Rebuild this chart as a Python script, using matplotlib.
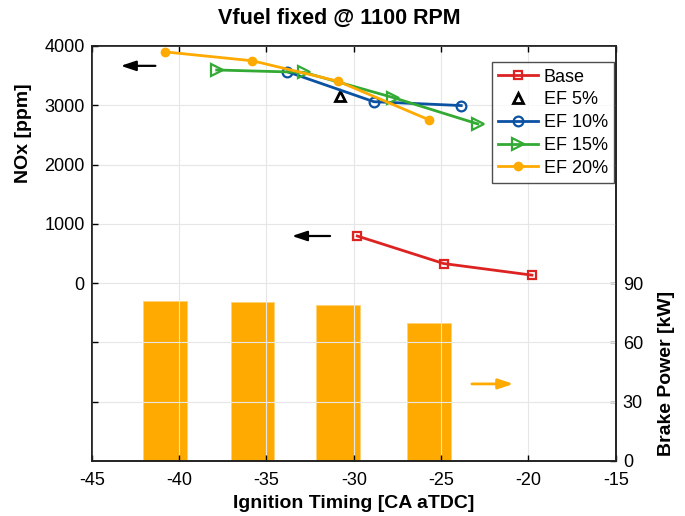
import matplotlib.pyplot as plt
import numpy as np

plt.rcParams["font.family"] = ["Liberation Sans", "DejaVu Sans"]
plt.rcParams["axes.unicode_minus"] = False

# NOx data (left axis)
base_x = [-29.8, -24.85, -19.8]
base_nox = [795, 330, 135]
ef5_x = [-30.8]
ef5_nox = [3150]
ef10_x = [-33.8, -28.85, -23.85]
ef10_nox = [3565, 3060, 2995]
ef15_x = [-37.85, -32.85, -27.75, -22.9]
ef15_nox = [3595, 3555, 3130, 2685]
ef20_x = [-40.8, -35.8, -30.9, -25.7]
ef20_nox = [3900, 3750, 3405, 2755]

# brake power bars (right axis)
bar_x = [-40.8, -35.8, -30.9, -25.7]
bar_power = [81.2, 80.7, 78.7, 70.0]

fig = plt.figure(figsize=(6.85, 5.16), dpi=100)
ax = fig.add_axes([0.134, 0.1066, 0.765, 0.8043])
ax2 = ax.twinx()

# bars behind the lines
ax.set_zorder(ax2.get_zorder() + 1)
ax.patch.set_visible(False)

ax2.bar(bar_x, bar_power, width=2.5, color="#FFAA00", edgecolor="#FFD27A", linewidth=0.6)
ax2.set_ylim(0, 210)
ax2.set_yticks([0, 30, 60, 90])
ax2.set_ylabel("Brake Power [kW]", fontsize=14, fontweight="bold")
ax2.yaxis.set_label_coords(1.08, 0.21)
ax2.annotate("", xy=(-20.7, 39), xytext=(-23.4, 39),
             arrowprops=dict(arrowstyle="-|>,head_length=0.9,head_width=0.3",
                             color="#FFAA00", lw=2))

lw = 2
ax.plot(base_x, base_nox, "-s", color="#DD2222", lw=lw, ms=6, mfc="none", mew=1.6, label="Base")
ax.plot(ef5_x, ef5_nox, "^", color="black", ms=7, mfc="none", mew=2, label="EF 5%")
ax.plot(ef10_x, ef10_nox, "-o", color="#0B52A3", lw=lw, ms=7, mfc="none", mew=1.6, label="EF 10%")
ax.plot(ef15_x, ef15_nox, "->", color="#33AA33", lw=lw, ms=9, mfc="none", mew=1.6, label="EF 15%")
ax.plot(ef20_x, ef20_nox, "-o", color="#FFAA00", lw=lw, ms=6, label="EF 20%")

ax.annotate("", xy=(-43.5, 3665), xytext=(-41.2, 3665),
            arrowprops=dict(arrowstyle="-|>,head_length=0.9,head_width=0.3",
                            color="black", lw=1.6))
ax.annotate("", xy=(-33.7, 795), xytext=(-31.2, 795),
            arrowprops=dict(arrowstyle="-|>,head_length=0.9,head_width=0.3",
                            color="black", lw=1.6))

ax.set_xlim(-45, -15)
ax.set_ylim(-3000, 4000)
ax.set_xticks(np.arange(-45, -14, 5))
ax.set_yticks([-2000, -1000, 0, 1000, 2000, 3000, 4000])
ax.set_yticklabels(["", "", "0", "1000", "2000", "3000", "4000"])
ax.grid(True, color="#E6E6E6", lw=0.8)
ax.set_xlabel("Ignition Timing [CA aTDC]", fontsize=14, fontweight="bold", labelpad=4)
ax.set_ylabel("NOx [ppm]", fontsize=14, fontweight="bold")
ax.yaxis.set_label_coords(-0.115, 0.79)
fig.text(0.495, 0.965, "Vfuel fixed @ 1100 RPM", fontsize=15.5, fontweight="bold",
         ha="center", va="center")

for a in (ax, ax2):
    a.tick_params(direction="in", labelsize=13, length=4, width=1, pad=5)
    for s in a.spines.values():
        s.set_color("#222222")
        s.set_linewidth(1.2)
ax.tick_params(top=True)
ax.tick_params(axis="x", pad=8)

ax.legend(loc="upper right", bbox_to_anchor=(1.0, 0.965), fontsize=13, frameon=True,
          fancybox=False, edgecolor="#222222", handlelength=2.2, borderpad=0.35,
          labelspacing=0.32, handletextpad=0.3, borderaxespad=0.1)

fig.savefig("out.png", dpi=100)
